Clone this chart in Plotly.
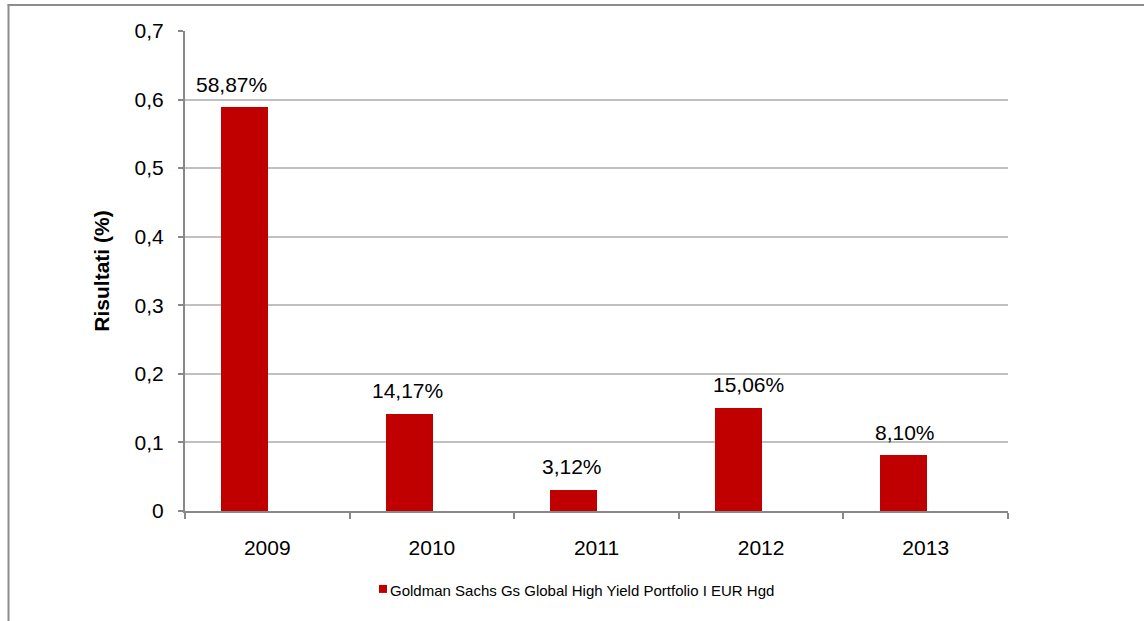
import plotly.graph_objects as go

years = ["2009", "2010", "2011", "2012", "2013"]
values = [0.5887, 0.1417, 0.0312, 0.1506, 0.0810]
labels = ["58,87%", "14,17%", "3,12%", "15,06%", "8,10%"]
series_name = "Goldman Sachs Gs Global High Yield Portfolio I EUR Hgd"
yticks = [0, 0.1, 0.2, 0.3, 0.4, 0.5, 0.6, 0.7]
yticktext = ["0", "0,1", "0,2", "0,3", "0,4", "0,5", "0,6", "0,7"]

# horizontal nudges (px) of the data labels, as placed in the original
label_dx = [-36, -24, -25, -13, -21]

RED = "#C00000"
GRID = "#C0C0C0"
AXIS = "#888888"
FONT = "Liberation Sans, Arial, sans-serif"

fig = go.Figure()
fig.add_trace(go.Bar(
    x=years, y=values, name=series_name, showlegend=False,
    marker=dict(color=RED, line=dict(width=0)),
    offset=-0.28, width=0.285,
))
# legend entry (swatch drawn as a small square shape next to the text)
fig.add_trace(go.Scatter(
    x=[None], y=[None], mode="markers", name=series_name,
    marker=dict(symbol="square", size=8, color="rgba(0,0,0,0)"),
))

for i, (v, t) in enumerate(zip(values, labels)):
    fig.add_annotation(x=i, y=v, text=t, showarrow=False, xref="x", yref="y",
                       xshift=label_dx[i], yshift=23, yanchor="middle",
                       font=dict(family=FONT, size=21, color="#000"))

plot_l, plot_r, plot_t, plot_b = 185, 1008, 30.5, 511
W, H = 1144, 621
pw, ph = plot_r - plot_l, plot_b - plot_t
def px(x):
    return (x - plot_l) / pw
def py(y):
    return (plot_b - y) / ph

fig.add_shape(type="line", xref="paper", yref="paper",
              x0=px(7.5), x1=px(1150), y0=py(4.5), y1=py(4.5),
              line=dict(color="#8C8C8C", width=2))
fig.add_shape(type="line", xref="paper", yref="paper",
              x0=px(8.5), x1=px(8.5), y0=py(4), y1=py(630),
              line=dict(color="#8C8C8C", width=2))
# legend swatch
fig.add_shape(type="rect", xref="paper", yref="paper",
              x0=px(379), x1=px(387), y0=py(593), y1=py(585),
              line=dict(width=0), fillcolor=RED)

fig.update_layout(
    width=W, height=H,
    margin=dict(l=plot_l, r=W - plot_r, t=plot_t, b=H - plot_b, pad=0),
    paper_bgcolor="white", plot_bgcolor="white",
    font=dict(family=FONT, size=21, color="#000"),
    showlegend=True,
    legend=dict(orientation="h", x=px(350), xanchor="left", y=py(590), yanchor="middle",
                font=dict(family=FONT, size=15, color="#000"), itemwidth=30,
                bgcolor="rgba(0,0,0,0)"),
    xaxis=dict(type="category", showline=True, linecolor=AXIS, linewidth=2,
               ticks="outside", tickson="boundaries", ticklen=6, tickcolor=AXIS, tickwidth=2,
               showgrid=False, tickfont=dict(size=21), ticklabelstandoff=17,
               range=[-0.5, 4.5], automargin=False),
    yaxis=dict(range=[0, 0.7], tickvals=yticks, ticktext=yticktext,
               showline=True, linecolor=AXIS, linewidth=2,
               ticks="outside", ticklen=5, tickcolor=AXIS, tickwidth=2,
               showgrid=True, gridcolor=GRID, gridwidth=2, zeroline=False,
               tickfont=dict(size=21), automargin=False, ticklabelstandoff=10,
               title=dict(text="<b>Risultati (%)</b>", font=dict(size=21), standoff=19)),
    bargap=0,
)

fig.write_html("out.html", config={"displayModeBar": False},
               post_script="document.body.style.margin='0';document.body.style.padding='0';")
